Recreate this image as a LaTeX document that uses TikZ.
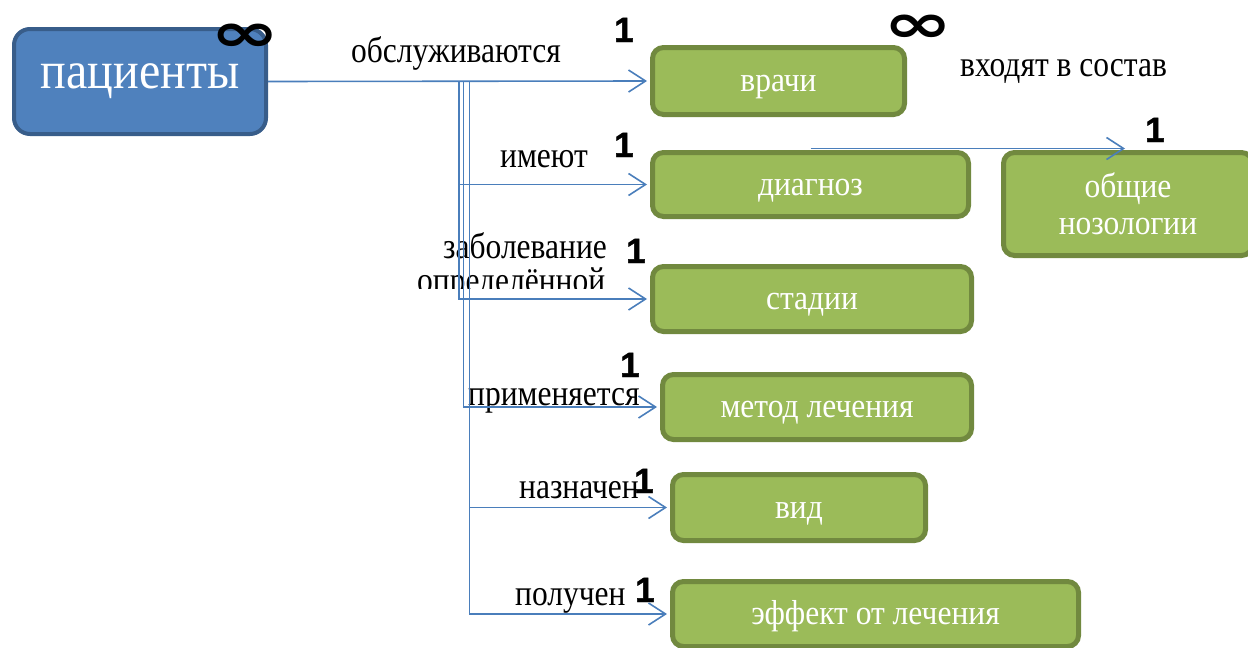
\documentclass[tikz,border=0pt]{standalone}
\usepackage{fontspec}
\setmainfont{Liberation Serif}
\newfontfamily\onefont[BoldFeatures={FakeBold=1.2}]{Liberation Sans}
\newfontfamily\inffont{DejaVu Sans}
\usetikzlibrary{arrows.meta,calc}
\definecolor{bfill}{HTML}{4F81BD}
\definecolor{bdraw}{HTML}{385D8A}
\definecolor{gfill}{HTML}{9BBB59}
\definecolor{gdraw}{HTML}{71893F}
\definecolor{lnc}{HTML}{4A7EBB}
\newcommand\vstretch[1]{\scalebox{1}[1.1]{#1}}
\newcommand\lstretch[1]{\scalebox{1}[1.15]{#1}}
\newcommand\infsym{\scalebox{1.3}[0.85]{∞}}
\begin{document}
\begin{tikzpicture}[x=1pt,y=-1pt,
  gbase/.style={draw=gdraw, fill=gfill, line width=5pt, rounded corners=11pt,
    inner sep=0pt, text=white, font=\fontsize{31.5}{37}\selectfont, align=center},
  gbox/.style={gbase, text height=24pt, text depth=3pt},
  bbox/.style={draw=bdraw, fill=bfill, line width=4pt, rounded corners=16pt,
    inner sep=0pt, text=white, font=\fontsize{48}{52}\selectfont,
    text height=24pt, text depth=11pt},
  lbl/.style={inner sep=0pt, anchor=base west, font=\fontsize{31.5}{36}\selectfont},
  one/.style={inner sep=0pt, anchor=base west, font=\fontsize{35}{38}\onefont\bfseries},
  inf/.style={inner sep=0pt, anchor=base, font=\fontsize{64}{70}\inffont\bfseries},
  conn/.style={draw=lnc, line width=1.6pt, shorten >=3pt,
    -{Straight Barb[length=17pt,width=22pt]}}
]
\useasboundingbox (0,0) rectangle (1248,648);
\clip (0,0) rectangle (1248,648);

% boxes
\node[bbox, minimum width=252pt, minimum height=105pt] (pac) at (140,81.5) {\vstretch{пациенты}};
\node[gbox, minimum width=252pt, minimum height=67pt] (vr) at (778.5,81) {\vstretch{врачи}};
\node[gbox, minimum width=316pt, minimum height=64pt] (diag) at (810.5,184.5) {\vstretch{диагноз}};
\node[gbase, minimum width=249pt, minimum height=103pt] (obsch) at (1128,204) {\vstretch{общие}\\\vstretch{нозологии}};
\node[gbox, minimum width=319pt, minimum height=65pt] (stad) at (812,299) {\vstretch{стадии}};
\node[gbox, minimum width=309pt, minimum height=65pt] (met) at (817,407) {\vstretch{метод лечения}};
\node[gbox, minimum width=253pt, minimum height=66pt] (vid) at (799,507.5) {\vstretch{вид}};
\node[gbox, minimum width=406pt, minimum height=65pt] (eff) at (875.5,614) {\vstretch{эффект от лечения}};

% relation labels
\node[lbl] (l1) at (351,62) {\lstretch{обслуживаются}};
\node[lbl] (l2) at (500,167) {\lstretch{имеют}};
\node[lbl] (l3) at (443,258) {\lstretch{заболевание}};
\begin{scope}
  \clip (380,240) rectangle (640,288.5);
  \node[lbl] (l3b) at (417,292) {\lstretch{определённой}};
\end{scope}
\node[lbl] (l4) at (468,405) {\lstretch{применяется}};
\node[lbl] (l5) at (519,498) {\lstretch{назначен}};
\node[lbl] (l6) at (515,605) {\lstretch{получен}};
\node[lbl] (l7) at (960,76) {\lstretch{входят в состав}};

% cardinalities
\node[inf] (i1) at (245.5,51) {\infsym};
\node[inf] (i2) at (918,42.5) {\infsym};
\node[one] (o1) at (614,42) {1};
\node[one] (o2) at (614,157) {1};
\node[one] (o3) at (626,263) {1};
\node[one] (o4) at (620,377) {1};
\node[one] (o5) at (634,493) {1};
\node[one] (o6) at (635,602) {1};
\node[one] (o7) at (1145,142) {1};

% junctions
\coordinate (j1) at (459,81);
\coordinate (j2) at (463.5,81);
\coordinate (j3) at (469.5,81);

% connectors
\draw[conn] (pac.east) -- (vr.west);
\draw[conn] (j1) |- (diag.west);
\draw[conn] (j1) |- (stad.west);
\draw[conn] (j2) |- (met.west);
\draw[conn] (j3) |- (vid.west);
\draw[conn] (j3) |- (eff.west);
\draw[conn] ([yshift=1.5pt]diag.north) -- ([yshift=1.5pt]obsch.north);
\end{tikzpicture}
\end{document}
